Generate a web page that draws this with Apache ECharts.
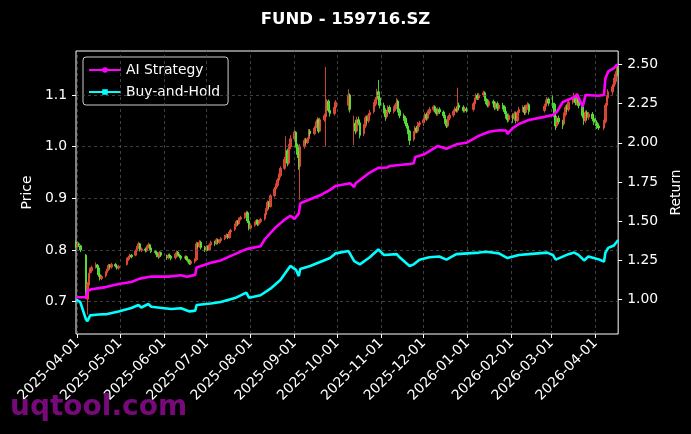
<!DOCTYPE html>
<html><head><meta charset="utf-8">
<script src="https://cdn.jsdelivr.net/npm/echarts@6/dist/echarts.min.js"></script>
<style>html,body{margin:0;padding:0;background:#000;}#c{width:691px;height:434px;}</style>
</head><body><div id="c"></div>
<script>
const chartTitle = 'FUND - 159716.SZ';
const firstDay = '2025-03-31';
const lastDay = '2026-04-17';
const holidays = ['2025-04-04','2025-05-01','2025-05-02','2025-05-05','2025-06-02',
  '2025-10-01','2025-10-02','2025-10-03','2025-10-06','2025-10-07','2025-10-08',
  '2026-01-01','2026-01-02','2026-02-16','2026-02-17','2026-02-18','2026-02-19','2026-02-20','2026-02-23','2026-04-06'];

const open = [0.815,
 0.808,0.812,0.808,0.790,0.705,0.732,0.755,0.760,0.768,0.770,0.765,0.752,0.745,0.750,0.756,0.762,0.770,0.767,0.772,0.769,0.765,
 0.772,0.782,0.786,0.790,0.790,0.798,0.805,0.812,0.800,0.802,0.799,0.806,0.810,0.804,0.797,0.795,0.789,0.787,0.795,
 0.788,0.785,0.790,0.788,0.785,0.792,0.796,0.790,0.788,0.784,0.787,0.782,0.780,0.774,0.778,0.781,0.812,0.807,0.815,0.805,
 0.800,0.806,0.801,0.810,0.815,0.812,0.820,0.815,0.818,0.822,0.826,0.829,0.824,0.835,0.840,0.848,0.855,0.851,0.860,0.863,0.869,0.872,0.856,
 0.842,0.848,0.852,0.857,0.850,0.855,0.860,0.868,0.878,0.892,0.884,0.905,0.918,0.925,0.935,0.944,0.958,0.975,0.992,0.968,1.000,
 1.015,1.028,1.002,0.985,0.962,1.000,1.012,1.008,1.015,1.030,1.025,1.036,1.045,1.052,1.030,1.052,1.058,1.080,1.088,1.070,1.064,1.076,
 1.080,1.100,1.040,1.045,1.030,1.052,1.046,1.025,1.040,1.056,1.050,1.061,1.068,1.082,1.091,1.106,1.094,
 1.080,1.070,1.058,1.066,1.076,1.068,1.073,1.081,1.088,1.070,1.060,1.055,1.045,1.040,1.030,1.014,1.026,1.036,1.030,1.043,
 1.046,1.052,1.062,1.055,1.066,1.072,1.077,1.070,1.064,1.072,1.067,1.060,1.049,1.040,1.055,1.061,1.068,1.073,1.070,1.080,1.076,1.070,1.073,
 1.072,1.083,1.091,1.099,1.094,1.100,1.104,1.093,1.088,1.080,1.087,1.084,1.076,1.083,1.074,1.080,1.077,1.068,1.060,1.052,
 1.060,1.054,1.064,1.050,1.066,1.072,1.076,1.066,1.076,1.081,1.070,1.078,1.086,1.092,
 1.084,1.082,1.058,1.040,1.055,1.048,1.044,1.062,1.076,1.072,1.086,1.091,1.097,1.085,1.093,1.079,1.060,1.050,1.066,1.057,1.063,1.054,
 1.049,1.047,1.040,1.036,1.048,1.080,1.094,1.106,1.116,1.126,1.140,1.150];

const close = [0.808,
 0.812,0.810,0.800,0.712,0.735,0.752,0.762,0.766,0.772,0.766,0.752,0.745,0.749,0.756,0.761,0.770,0.767,0.772,0.769,0.765,0.768,
 0.782,0.786,0.790,0.787,0.798,0.805,0.812,0.800,0.802,0.799,0.806,0.810,0.804,0.797,0.795,0.789,0.787,0.795,0.790,
 0.785,0.790,0.788,0.784,0.792,0.796,0.790,0.788,0.784,0.787,0.782,0.780,0.774,0.778,0.781,0.812,0.807,0.815,0.805,0.800,
 0.806,0.801,0.810,0.815,0.812,0.820,0.815,0.818,0.822,0.826,0.829,0.824,0.835,0.838,0.848,0.855,0.851,0.860,0.863,0.869,0.872,0.856,0.842,
 0.848,0.852,0.857,0.850,0.855,0.859,0.868,0.878,0.892,0.884,0.905,0.918,0.925,0.935,0.944,0.958,0.975,0.992,0.968,1.000,1.015,
 1.028,1.002,0.985,0.960,1.000,1.012,1.008,1.015,1.030,1.025,1.036,1.045,1.052,1.030,1.052,1.060,1.080,1.088,1.070,1.064,1.076,1.086,
 1.100,1.072,1.045,1.030,1.052,1.046,1.022,1.040,1.056,1.050,1.061,1.066,1.082,1.091,1.106,1.094,1.080,
 1.070,1.058,1.066,1.076,1.068,1.073,1.081,1.088,1.070,1.060,1.055,1.045,1.040,1.030,1.012,1.026,1.036,1.030,1.043,1.046,
 1.052,1.062,1.055,1.066,1.072,1.077,1.070,1.064,1.072,1.067,1.060,1.049,1.040,1.055,1.061,1.068,1.073,1.070,1.080,1.076,1.070,1.073,1.070,
 1.083,1.091,1.099,1.094,1.100,1.104,1.093,1.088,1.080,1.087,1.084,1.076,1.083,1.074,1.080,1.077,1.068,1.060,1.052,1.060,
 1.054,1.064,1.050,1.066,1.072,1.076,1.066,1.076,1.081,1.068,1.078,1.086,1.092,1.084,
 1.082,1.058,1.040,1.055,1.048,1.044,1.062,1.076,1.072,1.086,1.091,1.097,1.085,1.093,1.079,1.060,1.050,1.066,1.057,1.063,1.054,1.049,
 1.047,1.040,1.036,1.048,1.080,1.094,1.106,1.116,1.126,1.140,1.150,1.144];

const low = [0.804,
 0.805,0.806,0.796,0.706,0.675,0.728,0.750,0.756,0.764,0.762,0.748,0.741,0.742,0.747,0.753,0.759,0.764,0.764,0.766,0.762,0.762,
 0.770,0.779,0.783,0.784,0.788,0.795,0.802,0.797,0.796,0.795,0.796,0.803,0.800,0.794,0.791,0.786,0.783,0.785,0.787,
 0.781,0.782,0.784,0.780,0.782,0.789,0.787,0.784,0.780,0.781,0.779,0.776,0.771,0.771,0.774,0.779,0.803,0.804,0.801,0.796,
 0.797,0.798,0.799,0.807,0.808,0.810,0.811,0.812,0.815,0.819,0.823,0.821,0.822,0.832,0.837,0.845,0.847,0.849,0.857,0.860,0.866,0.852,0.838,
 0.840,0.845,0.849,0.846,0.847,0.852,0.857,0.865,0.875,0.880,0.882,0.902,0.914,0.921,0.931,0.940,0.955,0.972,0.962,0.965,0.995,
 1.010,0.998,0.978,0.955,0.897,0.996,1.004,1.005,1.012,1.020,1.022,1.032,1.041,1.026,1.028,1.048,1.000,1.075,1.066,1.058,1.060,1.072,
 1.070,1.066,1.003,1.024,1.027,1.041,1.016,1.020,1.036,1.045,1.046,1.056,1.064,1.078,1.087,1.088,1.074,
 1.064,1.050,1.054,1.062,1.063,1.064,1.069,1.077,1.066,1.055,1.050,1.040,1.035,1.024,1.003,1.010,1.022,1.026,1.027,1.038,
 1.040,1.048,1.050,1.052,1.062,1.068,1.066,1.060,1.060,1.063,1.055,1.044,1.036,1.037,1.051,1.057,1.064,1.066,1.066,1.071,1.066,1.066,1.066,
 1.068,1.079,1.087,1.090,1.090,1.096,1.088,1.082,1.076,1.076,1.079,1.071,1.072,1.069,1.070,1.072,1.063,1.054,1.047,1.048,
 1.046,1.050,1.045,1.047,1.062,1.067,1.061,1.062,1.071,1.062,1.066,1.073,1.080,1.079,
 1.074,1.052,1.032,1.036,1.043,1.034,1.040,1.058,1.067,1.068,1.082,1.087,1.080,1.080,1.074,1.055,1.042,1.046,1.052,1.052,1.049,1.042,
 1.040,1.034,1.032,1.032,1.045,1.076,1.090,1.100,1.110,1.120,1.134,1.136];

const high = [0.818,
 0.816,0.815,0.810,0.792,0.738,0.756,0.766,0.770,0.776,0.773,0.767,0.755,0.752,0.759,0.764,0.773,0.773,0.775,0.775,0.771,0.771,
 0.785,0.789,0.793,0.792,0.801,0.808,0.816,0.814,0.805,0.805,0.809,0.814,0.812,0.806,0.800,0.797,0.792,0.798,0.797,
 0.791,0.793,0.793,0.790,0.795,0.799,0.798,0.793,0.790,0.790,0.789,0.785,0.782,0.781,0.784,0.816,0.815,0.819,0.818,0.808,
 0.809,0.809,0.813,0.818,0.818,0.823,0.822,0.821,0.825,0.829,0.832,0.831,0.838,0.841,0.851,0.858,0.858,0.863,0.866,0.873,0.876,0.875,0.858,
 0.851,0.855,0.860,0.859,0.858,0.862,0.871,0.881,0.896,0.895,0.908,0.922,0.929,0.939,0.948,0.962,0.980,1.020,0.996,1.005,1.022,
 1.032,1.030,1.006,0.990,1.005,1.016,1.017,1.018,1.034,1.034,1.040,1.049,1.057,1.055,1.056,1.064,1.154,1.092,1.091,1.074,1.080,1.090,
 1.111,1.103,1.060,1.052,1.058,1.058,1.050,1.044,1.060,1.060,1.065,1.071,1.086,1.096,1.112,1.129,1.098,
 1.085,1.074,1.070,1.080,1.080,1.078,1.085,1.094,1.091,1.074,1.064,1.059,1.050,1.044,1.033,1.030,1.040,1.040,1.048,1.050,
 1.056,1.066,1.066,1.070,1.077,1.080,1.080,1.074,1.076,1.076,1.070,1.063,1.053,1.059,1.065,1.072,1.077,1.078,1.114,1.085,1.080,1.077,1.077,
 1.087,1.095,1.103,1.103,1.104,1.108,1.107,1.098,1.092,1.091,1.091,1.088,1.087,1.087,1.084,1.085,1.080,1.072,1.064,1.064,
 1.064,1.068,1.068,1.070,1.077,1.080,1.080,1.081,1.086,1.084,1.083,1.091,1.096,1.095,
 1.100,1.085,1.062,1.060,1.060,1.052,1.066,1.080,1.082,1.090,1.096,1.104,1.100,1.098,1.097,1.082,1.064,1.070,1.070,1.067,1.067,1.058,
 1.056,1.051,1.045,1.052,1.084,1.099,1.111,1.121,1.133,1.146,1.158,1.156];

const aiDates = ['2025-03-31','2025-04-07','2025-04-08','2025-04-11','2025-04-21','2025-04-30','2025-05-09','2025-05-15','2025-05-23','2025-06-04',
 '2025-06-13','2025-06-17','2025-06-23','2025-06-24','2025-07-04','2025-07-11','2025-07-21','2025-07-29','2025-08-08','2025-08-11',
 '2025-08-18','2025-08-25','2025-08-29','2025-09-01','2025-09-04','2025-09-05','2025-09-12','2025-09-19','2025-09-26','2025-09-30',
 '2025-10-10','2025-10-13','2025-10-14','2025-10-24','2025-10-30','2025-11-05','2025-11-07','2025-11-21','2025-11-24','2025-11-25',
 '2025-12-01','2025-12-11','2025-12-17','2025-12-24','2025-12-31','2026-01-09','2026-01-16','2026-01-23','2026-01-28','2026-01-29',
 '2026-02-02','2026-02-06','2026-02-13','2026-02-24','2026-03-02','2026-03-05','2026-03-09','2026-03-17','2026-03-19','2026-03-23',
 '2026-03-25','2026-04-03','2026-04-07','2026-04-08','2026-04-10','2026-04-14','2026-04-16','2026-04-17'];
const aiValues = [1.015,1.015,1.055,1.066,1.080,1.100,1.112,1.134,1.148,1.147,
 1.155,1.146,1.158,1.205,1.235,1.250,1.290,1.322,1.340,1.385,
 1.455,1.510,1.535,1.515,1.550,1.614,1.640,1.665,1.700,1.725,
 1.742,1.718,1.742,1.810,1.840,1.842,1.852,1.865,1.870,1.910,
 1.925,1.980,1.962,1.990,2.000,2.045,2.070,2.080,2.078,2.056,
 2.095,2.120,2.145,2.165,2.177,2.200,2.260,2.290,2.310,2.230,
 2.305,2.300,2.305,2.410,2.455,2.475,2.496,2.498];

const bhDates = ['2025-03-31','2025-04-03','2025-04-07','2025-04-08','2025-04-10','2025-04-16','2025-04-22','2025-04-30','2025-05-09','2025-05-14',
 '2025-05-16','2025-05-21','2025-05-23','2025-06-06','2025-06-13','2025-06-19','2025-06-23','2025-06-24','2025-07-04','2025-07-11',
 '2025-07-21','2025-07-29','2025-07-31','2025-08-08','2025-08-15','2025-08-22','2025-08-29','2025-09-02','2025-09-04','2025-09-05',
 '2025-09-12','2025-09-19','2025-09-26','2025-09-30','2025-10-09','2025-10-10','2025-10-13','2025-10-17','2025-10-24','2025-10-30',
 '2025-11-03','2025-11-12','2025-11-14','2025-11-21','2025-11-24','2025-11-28','2025-12-05','2025-12-12','2025-12-17','2025-12-24',
 '2026-01-09','2026-01-14','2026-01-23','2026-01-29','2026-02-06','2026-02-13','2026-02-26','2026-03-02','2026-03-04','2026-03-13',
 '2026-03-17','2026-03-20','2026-03-24','2026-03-27','2026-04-03','2026-04-07','2026-04-08','2026-04-10','2026-04-14','2026-04-17'];
const bhValues = [1.000,0.985,0.875,0.862,0.900,0.905,0.908,0.925,0.947,0.966,
 0.950,0.972,0.955,0.940,0.945,0.925,0.930,0.966,0.975,0.985,
 1.010,1.045,1.012,1.028,1.070,1.125,1.215,1.190,1.150,1.195,
 1.215,1.240,1.265,1.295,1.310,1.300,1.245,1.225,1.270,1.320,
 1.285,1.290,1.270,1.215,1.225,1.255,1.270,1.275,1.255,1.290,
 1.300,1.305,1.295,1.265,1.285,1.290,1.300,1.285,1.255,1.290,
 1.300,1.285,1.250,1.275,1.258,1.242,1.300,1.330,1.345,1.380];

const monthTicks = ['2025-04-01','2025-05-01','2025-06-01','2025-07-01','2025-08-01','2025-09-01','2025-10-01',
 '2025-11-01','2025-12-01','2026-01-01','2026-02-01','2026-03-01','2026-04-01'];
const priceTicks = [0.7, 0.8, 0.9, 1.0, 1.1];
const returnTicks = [1.00, 1.25, 1.50, 1.75, 2.00, 2.25, 2.50];

function toTs(s){ const p = s.split('-').map(Number); return new Date(p[0], p[1]-1, p[2]).getTime(); }
function fmt(d){ return d.getFullYear()+'-'+String(d.getMonth()+1).padStart(2,'0')+'-'+String(d.getDate()).padStart(2,'0'); }

const tradingDays = [];
for (let d = new Date(toTs(firstDay)); d.getTime() <= toTs(lastDay); d.setDate(d.getDate()+1)) {
  const w = d.getDay(); const s = fmt(d);
  if (w === 0 || w === 6 || holidays.indexOf(s) >= 0) continue;
  tradingDays.push(d.getTime());
}
const n = Math.min(tradingDays.length, open.length, close.length, low.length, high.length);
const candles = [];
for (let i = 0; i < n; i++) candles.push([tradingDays[i], open[i], close[i], low[i], high[i]]);
const aiData = aiDates.map((d,i)=>[toTs(d), aiValues[i]]);
const bhData = bhDates.map((d,i)=>[toTs(d), bhValues[i]]);
const monthTs = monthTicks.map(toTs);

const FONT = 'DejaVu Sans';
const UP = '#f0503c', DOWN = '#5ef03c';
const gridLineStyle = {color:'#5a5a5a', type:[3,3], width:0.7};

const chart = echarts.init(document.getElementById('c'), null, {renderer:'canvas', width:691, height:434});
chart.setOption({
  backgroundColor:'#000',
  animation:false,
  textStyle:{fontFamily:FONT},
  title:{text:chartTitle, left:'center', top:6, textStyle:{color:'#fff', fontSize:16.5, fontWeight:'bold', fontFamily:FONT}},
  legend:{
    data:[{name:'AI Strategy'},{name:'Buy-and-Hold'}],
    orient:'vertical', left:83, top:57,
    padding:[6,8,6,5], itemGap:8, itemWidth:32, itemHeight:7,
    backgroundColor:'#000', borderColor:'#cccccc', borderWidth:1, borderRadius:3,
    textStyle:{color:'#fff', fontSize:13.9, fontFamily:FONT}
  },
  grid:{left:76, right:70, top:51, bottom:100, show:true, borderColor:'#fff', borderWidth:1, backgroundColor:'#000'},
  xAxis:{
    type:'value', min:toTs(firstDay), max:toTs(lastDay),
    axisLine:{show:false},
    axisTick:{show:true, customValues:monthTs, length:4, lineStyle:{color:'#fff'}},
    axisLabel:{customValues:monthTs, rotate:45, color:'#fff', fontSize:13.9, fontFamily:FONT, margin:7,
      formatter:(v)=>fmt(new Date(v)), hideOverlap:false},
    splitLine:{show:false}
  },
  yAxis:[{
    type:'value', position:'left', min:0.6375, max:1.185,
    name:'Price', nameLocation:'middle', nameGap:36,
    nameTextStyle:{color:'#fff', fontSize:13.9, fontFamily:FONT},
    axisLine:{show:false},
    axisTick:{show:true, customValues:priceTicks, length:4, lineStyle:{color:'#fff'}},
    axisLabel:{customValues:priceTicks, color:'#fff', fontSize:13.9, fontFamily:FONT, margin:9, formatter:(v)=>v.toFixed(1)},
    splitLine:{show:false}
  },{
    type:'value', position:'right', min:0.781, max:2.585,
    name:'Return', nameLocation:'middle', nameGap:46,
    nameTextStyle:{color:'#fff', fontSize:13.9, fontFamily:FONT},
    axisLine:{show:false},
    axisTick:{show:true, customValues:returnTicks, length:4, lineStyle:{color:'#fff'}},
    axisLabel:{customValues:returnTicks, color:'#fff', fontSize:13.9, fontFamily:FONT, margin:9, formatter:(v)=>v.toFixed(2)},
    splitLine:{show:false}
  }],
  series:[
    {type:'line', name:'gridlines', data:[], xAxisIndex:0, yAxisIndex:0, silent:true, z:1,
      markLine:{silent:true, symbol:['none','none'], label:{show:false}, lineStyle:gridLineStyle, animation:false,
        data:[...priceTicks.map(v=>({yAxis:v})), ...monthTs.map(t=>({xAxis:t}))]}},
    {type:'candlestick', name:'Price', data:candles, xAxisIndex:0, yAxisIndex:0, barWidth:2, z:2,
      itemStyle:{color:UP, color0:DOWN, borderColor:UP, borderColor0:DOWN, borderWidth:1, opacity:0.85}},
    {type:'line', name:'AI Strategy', data:aiData, xAxisIndex:0, yAxisIndex:1, z:5,
      showSymbol:false, symbol:'circle', symbolSize:5,
      lineStyle:{color:'#ff00ff', width:2.6}, itemStyle:{color:'#ff00ff'}},
    {type:'line', name:'Buy-and-Hold', data:bhData, xAxisIndex:0, yAxisIndex:1, z:5,
      showSymbol:false, symbol:'rect', symbolSize:5,
      lineStyle:{color:'#00ffff', width:2.6}, itemStyle:{color:'#00ffff'}}
  ],
  graphic:[{type:'text', left:10, top:394, z:100, silent:true,
    style:{text:'uqtool.com', fill:'rgba(130,10,132,0.92)', font:'bold 28px "DejaVu Sans"'}}]
});
</script>
</body></html>
